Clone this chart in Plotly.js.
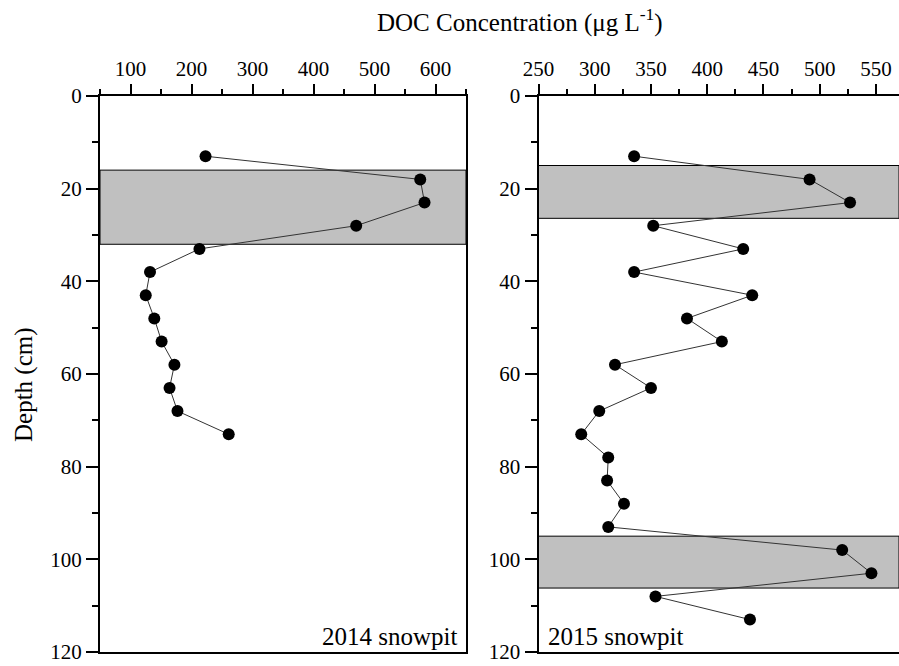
<!DOCTYPE html>
<html>
<head>
<meta charset="utf-8">
<script src="https://cdn.plot.ly/plotly-3.0.1.min.js"></script>
</head>
<body style="margin:0;background:#fff">
<div id="chart" style="width:899px;height:666px"></div>
<script>
// Depth (cm) and DOC concentration (µg L-1)
const depth2014 = [13, 18, 23, 28, 33, 38, 43, 48, 53, 58, 63, 68, 73];
const doc2014 = [223, 575, 582, 470, 213, 132, 125, 139, 151, 172, 164, 177, 261];

const depth2015 = [13, 18, 23, 28, 33, 38, 43, 48, 53, 58, 63, 68, 73, 78, 83, 88, 93, 98, 103, 108, 113];
const doc2015 = [335, 491, 527, 352, 432, 335, 440, 382, 413, 318, 350, 304, 288, 312, 311, 326, 312, 520, 546, 354, 438];

// shaded depth bands [top, bottom]
const bands2014 = [[16, 32]];
const bands2015 = [[15, 26.4], [95, 106.2]];

const titleText = 'DOC Concentration (μg L<sup>-1</sup>)';
const yTitleText = 'Depth (cm)';
const label2014 = '2014 snowpit';
const label2015 = '2015 snowpit';

const FONT = 'Times New Roman, Liberation Serif, DejaVu Serif, serif';

const markerStyle = {symbol: 'circle', size: 12, color: '#000'};
const lineStyle = {color: '#333', width: 1};

const traces = [
  {x: doc2014, y: depth2014, xaxis: 'x', yaxis: 'y', mode: 'lines+markers',
   marker: markerStyle, line: lineStyle, cliponaxis: false, hoverinfo: 'x+y'},
  {x: doc2015, y: depth2015, xaxis: 'x2', yaxis: 'y2', mode: 'lines+markers',
   marker: markerStyle, line: lineStyle, cliponaxis: false, hoverinfo: 'x+y'}
];

function bandShapes(bands, xref, yref) {
  return bands.map(b => ({
    type: 'rect', xref: xref + ' domain', yref: yref,
    x0: 0, x1: 1, y0: b[0], y1: b[1],
    fillcolor: '#c0c0c0', line: {color: '#000', width: 1}, layer: 'below'
  }));
}

const axisCommon = {
  showgrid: false, zeroline: false, showline: true, linecolor: '#000', linewidth: 2,
  ticks: 'outside', tickwidth: 2, tickcolor: '#000',
  tickfont: {family: FONT, size: 21, color: '#000'}
};
const xMinor = (d) => ({dtick: d, tick0: 0, ticks: 'outside', ticklen: 5, tickwidth: 2, tickcolor: '#000'});
const yMinor = {dtick: 10, tick0: 0, ticks: 'outside', ticklen: 6, tickwidth: 2, tickcolor: '#000'};

const W = 899;
const layout = {
  width: 899, height: 666,
  margin: {l: 0, r: 0, t: 96, b: 14},
  paper_bgcolor: '#fff', plot_bgcolor: 'rgba(0,0,0,0)',
  showlegend: false,
  font: {family: FONT, color: '#000'},
  xaxis: Object.assign({}, axisCommon, {
    domain: [100 / W, 466 / W], range: [50, 650], side: 'top', anchor: 'y',
    dtick: 100, tick0: 0, mirror: true, ticklen: 10, minor: xMinor(50)
  }),
  yaxis: Object.assign({}, axisCommon, {
    domain: [0, 1], range: [120, 0], anchor: 'x', dtick: 20, tick0: 0, mirror: true,
    ticklen: 12, minor: yMinor
  }),
  xaxis2: Object.assign({}, axisCommon, {
    domain: [538.5 / W, 1], range: [250, 570.5], side: 'top', anchor: 'y2',
    dtick: 50, tick0: 0, mirror: true, ticklen: 10, minor: xMinor(25)
  }),
  yaxis2: Object.assign({}, axisCommon, {
    domain: [0, 1], range: [120, 0], anchor: 'x2', dtick: 20, tick0: 0,
    ticklen: 12, minor: yMinor
  }),
  shapes: [].concat(bandShapes(bands2014, 'x', 'y'), bandShapes(bands2015, 'x2', 'y2')),
  annotations: [
    {text: titleText, xref: 'paper', yref: 'paper', x: 520 / W, y: 1, yshift: 76,
     xanchor: 'center', yanchor: 'middle', showarrow: false,
     font: {family: FONT, size: 25, color: '#000'}},
    {text: yTitleText, xref: 'paper', yref: 'paper', x: 24 / W, y: 0.5, yshift: -11,
     xanchor: 'center', yanchor: 'middle', showarrow: false, textangle: -90,
     font: {family: FONT, size: 25, color: '#000'}},
    {text: label2014, xref: 'x domain', yref: 'y domain', x: 0.98, y: 0, yshift: 0,
     xanchor: 'right', yanchor: 'bottom', showarrow: false,
     font: {family: FONT, size: 25, color: '#000'}},
    {text: label2015, xref: 'x2 domain', yref: 'y2 domain', x: 0.02, y: 0, yshift: 0,
     xanchor: 'left', yanchor: 'bottom', showarrow: false,
     font: {family: FONT, size: 25, color: '#000'}}
  ]
};

Plotly.newPlot('chart', traces, layout, {displayModeBar: false, staticPlot: true});
</script>
</body>
</html>
